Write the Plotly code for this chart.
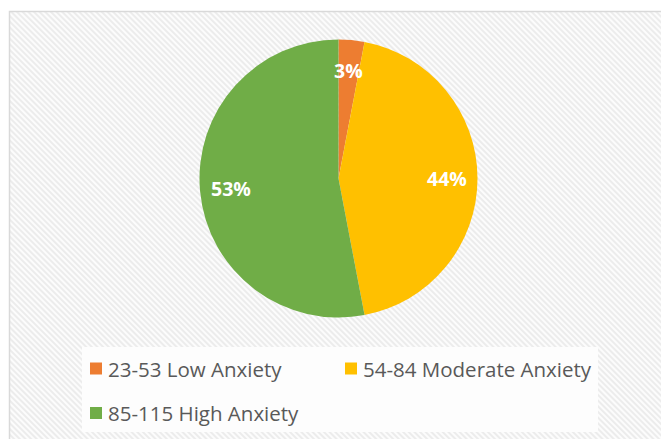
import base64
import math
import plotly.graph_objects as go

# Anxiety score bands and their share of respondents (%)
categories = ["23-53 Low Anxiety", "54-84 Moderate Anxiety", "85-115 High Anxiety"]
shares = [3, 44, 53]
colors = ["#ED7D31", "#FFC000", "#70AD47"]

W, H = 661, 439
FONT = "Open Sans"


def fx(x):
    return x / W


def fy(y):
    return 1 - y / H


# Pie geometry in pixels
cx, cy, r = 338.5, 178.5, 139

# Hatched chart-area background as an inline SVG pattern
bg_w, bg_h = W - 9, H - 11
svg = (
    f'<svg xmlns="http://www.w3.org/2000/svg" width="{bg_w}" height="{bg_h}">'
    '<defs><pattern id="h" width="4" height="4" patternUnits="userSpaceOnUse" '
    'patternTransform="rotate(-45)">'
    '<rect width="4" height="4" fill="#fcfcfc"/>'
    '<rect width="2" height="4" fill="#ececec"/>'
    '</pattern></defs>'
    '<rect width="100%" height="100%" fill="url(#h)"/></svg>'
)
hatch_uri = "data:image/svg+xml;base64," + base64.b64encode(svg.encode()).decode()

fig = go.Figure(
    go.Pie(
        labels=categories,
        values=shares,
        sort=False,
        direction="clockwise",
        marker=dict(colors=colors, line=dict(width=0)),
        textinfo="none",
        domain=dict(x=[fx(cx - r), fx(cx + r)], y=[fy(cy + r), fy(cy - r)]),
        showlegend=False,
        hoverinfo="label+percent",
    )
)

annotations = []

# Percentage labels placed along each slice's bisector
total = sum(shares)
cum = 0
for v in shares:
    theta = math.radians(360 * (cum + v / 2) / total)
    cum += v
    k = 0.78
    lx = cx + k * r * math.sin(theta)
    ly = cy - k * r * math.cos(theta)
    annotations.append(dict(xref="paper", yref="paper", x=fx(lx), y=fy(ly),
                            xanchor="center", yanchor="middle", showarrow=False,
                            text=f"{round(100 * v / total)}%",
                            font=dict(family=FONT, size=19.5, color="white", weight="bold")))

shapes = [
    # chart frame
    dict(type="rect", xref="paper", yref="paper",
         x0=fx(9.5), x1=fx(W + 5), y0=fy(H + 5), y1=fy(11.5),
         line=dict(color="#d9d9d9", width=1.5), fillcolor="rgba(0,0,0,0)", layer="above"),
    # legend panel
    dict(type="rect", xref="paper", yref="paper",
         x0=fx(82), x1=fx(598), y0=fy(432), y1=fy(347),
         line=dict(width=0), fillcolor="#fdfdfd", layer="below"),
]

# Legend entries laid out in two columns
col_x = [90, 345]
row_y = [368.5, 413]
sw = 12
for i, (name, color) in enumerate(zip(categories, colors)):
    x0 = col_x[i % 2]
    yc = row_y[i // 2]
    shapes.append(dict(type="rect", xref="paper", yref="paper",
                       x0=fx(x0), x1=fx(x0 + sw), y0=fy(yc + sw / 2), y1=fy(yc - sw / 2),
                       line=dict(width=0), fillcolor=color, layer="above"))
    annotations.append(dict(xref="paper", yref="paper", x=fx(x0 + sw + 4), y=fy(yc),
                            xanchor="left", yanchor="middle", showarrow=False, text=name,
                            font=dict(family=FONT, size=20.5, color="#595959")))

fig.update_layout(
    width=W,
    height=H,
    margin=dict(l=0, r=0, t=0, b=0),
    paper_bgcolor="white",
    plot_bgcolor="white",
    shapes=shapes,
    annotations=annotations,
    images=[dict(source=hatch_uri, xref="paper", yref="paper",
                 x=fx(9), y=fy(11), sizex=bg_w / W, sizey=bg_h / H,
                 xanchor="left", yanchor="top", sizing="stretch", layer="below")],
)

fig.write_html("out.html")
